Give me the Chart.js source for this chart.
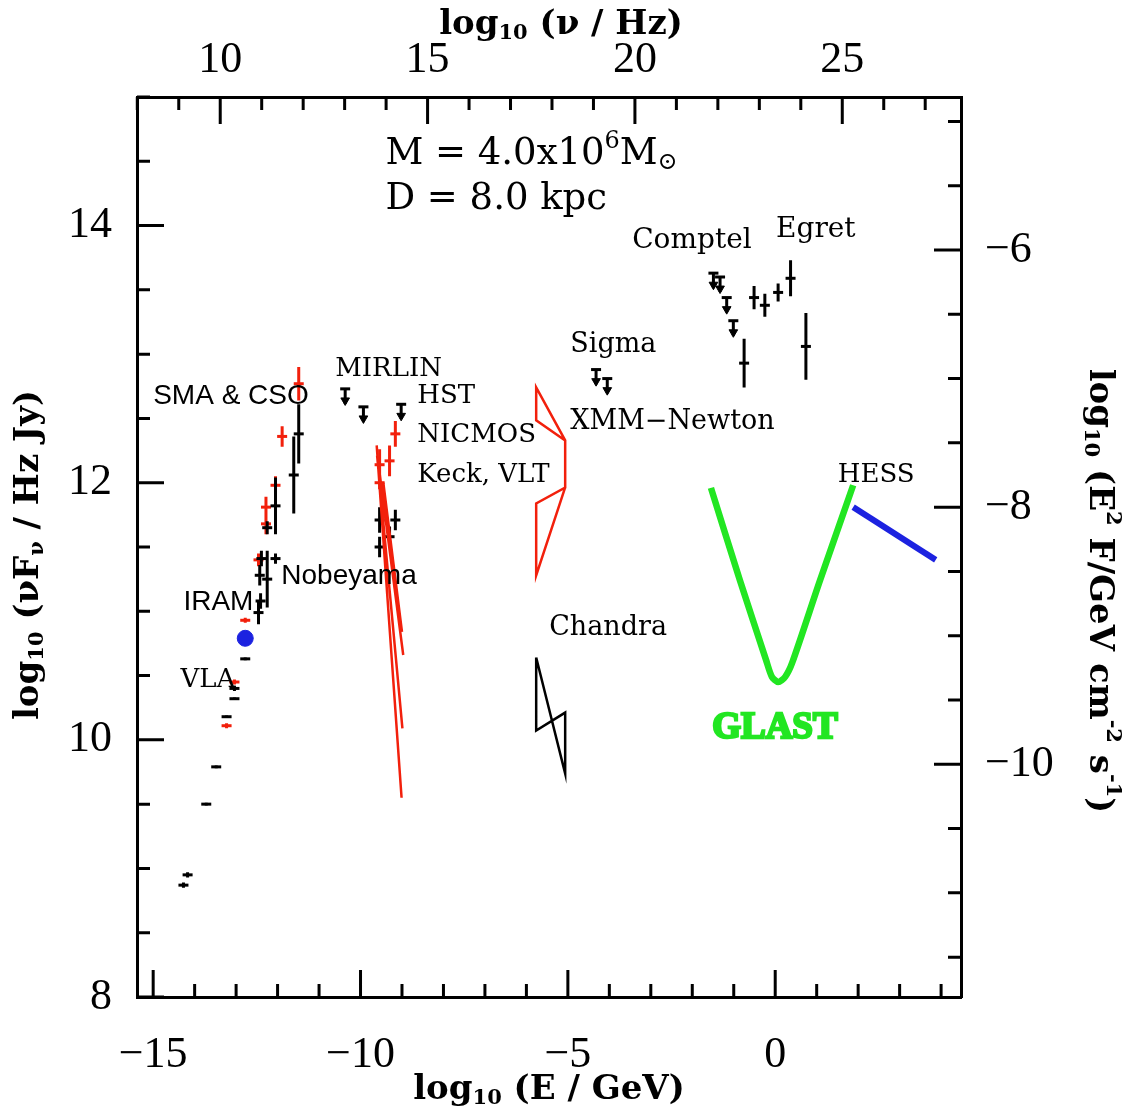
<!DOCTYPE html>
<html lang="en">
<head>
<meta charset="UTF-8">
<title>Sgr A* spectrum</title>
<script src="https://cdn.jsdelivr.net/npm/chart.js"></script>
<style>
  html, body { margin: 0; padding: 0; background: #fff; }
  canvas { display: block; }
</style>
</head>
<body>
<canvas id="chart" width="1122" height="1113"></canvas>
<script>
// x = log10(E / GeV), y = log10(nuFnu / Hz Jy)
// the top and right axes are shifted copies of these
const NU_OFFSET = 23.383;   // log10(nu/Hz) - log10(E/GeV)
const FLUX_OFFSET = -19.81; // log10(E^2 F) - log10(nuFnu)
const X_MIN = -15.39, X_MAX = 4.48;
const Y_MIN = 8, Y_MAX = 15;

// labelled tick values of each axis
const bottomTicks = [-15, -10, -5, 0];
const topTicks = [10, 15, 20, 25];
const leftTicks = [8, 10, 12, 14];
const rightTicks = [-10, -8, -6];

// black detections (radio, mm, IR, Egret)
const detE = [-14.27, -14.17, -13.72, -13.48, -13.23, -13.04, -13.04, -12.78, -12.78,
  -12.46, -12.41, -12.43, -12.39, -12.25, -12.05, -12.25, -12.05, -11.61, -11.49,
  -9.54, -9.54, -9.30, -9.16,
  -0.75, -0.51, -0.25, 0.07, 0.37, 0.74];
const detF = [8.87, 8.95, 9.50, 9.79, 10.18, 10.32, 10.40, 10.63, 10.79,
  10.99, 11.08, 11.28, 11.41, 11.25, 11.41, 11.65, 11.82, 12.06, 12.38,
  11.71, 11.50, 11.58, 11.71,
  12.93, 13.44, 13.38, 13.48, 13.59, 13.06];
const detErr = [0.02, 0.02, 0.01, 0.01, 0.01, 0.01, 0.02, 0.01, 0.02,
  0.09, 0.06, 0.08, 0.06, 0.22, 0.04, 0.05, 0.22, 0.30, 0.23,
  0.10, 0.08, 0.08, 0.08,
  0.19, 0.09, 0.09, 0.07, 0.14, 0.26];

// red points (flaring / alternative epochs)
const flareE = [-13.23, -13.04, -12.78, -12.46, -12.28, -12.28, -12.05, -11.89, -11.49,
  -9.16, -9.30, -9.54, -9.54];
const flareF = [10.11, 10.45, 10.93, 11.40, 11.81, 11.68, 11.98, 12.36, 12.77,
  12.38, 12.17, 12.14, 12.00];
const flareErr = [0.02, 0.02, 0.02, 0.05, 0.08, 0.08, 0.07, 0.08, 0.13,
  0.10, 0.12, 0.12, 0.05];

// IRAM point
const iramE = [-12.78];
const iramF = [10.79];

// upper limits (MIRLIN, HST, Sigma, Comptel)
const limE = [-10.37, -9.93, -9.02, -4.32, -4.05, -1.49, -1.33, -1.17, -1.01];
const limF = [12.73, 12.59, 12.61, 12.88, 12.81, 13.63, 13.60, 13.44, 13.26];

// NIR flare spectral slopes: start and end of each line
const slopeE1 = [-9.61, -9.60, -9.55, -9.45];
const slopeF1 = [12.29, 12.21, 12.10, 12.00];
const slopeE2 = [-9.01, -8.99, -8.97, -9.00];
const slopeF2 = [9.55, 10.09, 10.66, 10.84];

// XMM-Newton flare bow-tie
const xmmE = [-5.065, -5.764, -5.764, -5.065, -5.065, -5.764, -5.764, -5.065];
const xmmF = [12.329, 12.485, 12.742, 12.329, 11.963, 11.839, 11.279, 11.963];

// Chandra quiescent bow-tie
const chandraE = [-5.764, -5.764, -5.065, -5.065, -5.764];
const chandraF = [10.640, 10.072, 10.212, 9.737, 10.640];

// GLAST sensitivity curve
const glastE = [-1.55, -0.85, -0.22, -0.08, 0.07, 0.24, 0.41, 1.08, 1.88];
const glastF = [11.96, 11.24, 10.62, 10.49, 10.45, 10.49, 10.60, 11.24, 11.98];

// HESS spectrum
const hessE = [1.88, 3.87];
const hessF = [11.81, 11.40];

const LIM_LEN = 0.115;

const SERIF = "'DejaVu Serif', serif";
const SANS = "'Liberation Sans', Arial, sans-serif";
const notes = [
  { text: 'SMA & CSO', x: -15.00, y: 12.67, font: '28px ' + SANS },
  { text: 'MIRLIN', x: -10.61, y: 12.88, font: '26px ' + SERIF },
  { text: 'HST', x: -8.63, y: 12.67, font: '26px ' + SERIF },
  { text: 'NICMOS', x: -8.63, y: 12.37, font: '26px ' + SERIF },
  { text: 'Keck, VLT', x: -8.63, y: 12.06, font: '26px ' + SERIF },
  { text: 'Nobeyama', x: -11.91, y: 11.27, font: '28px ' + SANS },
  { text: 'IRAM', x: -14.27, y: 11.07, font: '28px ' + SANS },
  { text: 'VLA', x: -14.34, y: 10.46, font: '26px ' + SERIF },
  { text: 'Sigma', x: -4.94, y: 13.07, font: '27px ' + SERIF },
  { text: 'XMM\u2212Newton', x: -4.94, y: 12.47, font: '27px ' + SERIF },
  { text: 'Chandra', x: -5.45, y: 10.87, font: '27px ' + SERIF },
  { text: 'Comptel', x: -3.45, y: 13.88, font: '28px ' + SERIF },
  { text: 'Egret', x: 0.02, y: 13.97, font: '28px ' + SERIF },
  { text: 'HESS', x: 1.51, y: 12.06, font: '26px ' + SERIF }
];

function pts(xs, ys) {
  return xs.map((x, i) => ({ x: x, y: ys[i] }));
}
// two-point segments separated by gaps
function segs(xa, ya, xb, yb) {
  const out = [];
  xa.forEach((x, i) => {
    out.push({ x: x, y: ya[i] }, { x: xb[i], y: yb[i] }, { x: xb[i], y: null });
  });
  return out;
}
function errBars(xs, ys, errs) {
  return segs(xs, ys.map((y, i) => y - errs[i]), xs, ys.map((y, i) => y + errs[i]));
}

const fmt = v => (v < 0 ? '\u2212' + (-v) : String(v));

const tickFont = { family: "'Liberation Serif', serif", size: 44 };
function axis(position, min, max, labels, padding, size) {
  const horiz = position === 'top' || position === 'bottom';
  return {
    type: 'linear', position: position, min: min, max: max,
    grid: { display: false, drawTicks: false },
    border: { display: true, color: '#000', width: 3 },
    ticks: { autoSkip: false, maxRotation: 0, color: '#000', font: tickFont, padding: padding, callback: fmt },
    afterBuildTicks: s => { s.ticks = labels.map(v => ({ value: v })); },
    afterFit: s => { if (horiz) s.height = size; else s.width = size; }
  };
}

// inward frame ticks
const frameTicks = {
  id: 'frameTicks',
  afterDraw(chart) {
    const { ctx, chartArea: a, scales } = chart;
    ctx.save();
    ctx.strokeStyle = '#000';
    ctx.lineWidth = 3;
    ctx.beginPath();
    const run = (scale, step, major, draw) => {
      for (let k = Math.ceil(scale.min / step - 1e-9); k * step <= scale.max + 1e-9; k++) {
        const v = k * step;
        const isMajor = Math.abs(v / major - Math.round(v / major)) < 1e-6;
        draw(scale.getPixelForValue(v), isMajor ? 27 : 13);
      }
    };
    run(scales.x, 1, 5, (p, l) => { ctx.moveTo(p, a.bottom); ctx.lineTo(p, a.bottom - l); });
    run(scales.x2, 1, 5, (p, l) => { ctx.moveTo(p, a.top); ctx.lineTo(p, a.top + l); });
    run(scales.y, 0.5, 2, (p, l) => { ctx.moveTo(a.left, p); ctx.lineTo(a.left + l, p); });
    run(scales.y2, 0.5, 2, (p, l) => { ctx.moveTo(a.right, p); ctx.lineTo(a.right - l, p); });
    ctx.stroke();
    ctx.restore();
  }
};

function drawRich(ctx, parts, x, y, align) {
  let total = 0;
  parts.forEach(p => { ctx.font = p.font; total += ctx.measureText(p.t).width; });
  let cx = align === 'center' ? x - total / 2 : x;
  parts.forEach(p => {
    ctx.font = p.font;
    ctx.fillText(p.t, cx, y + (p.dy || 0));
    cx += ctx.measureText(p.t).width;
  });
}

const TB = 'bold 34px ' + SERIF, TS = 'bold 21px ' + SERIF;
const titles = {
  bottom: [{ t: 'log', font: TB }, { t: '10', font: TS, dy: 9 }, { t: ' (E / GeV)', font: TB }],
  top: [{ t: 'log', font: TB }, { t: '10', font: TS, dy: 9 }, { t: ' (\u03bd / Hz)', font: TB }],
  left: [{ t: 'log', font: TB }, { t: '10', font: TS, dy: 9 }, { t: ' (\u03bdF', font: TB },
    { t: '\u03bd', font: TS, dy: 9 }, { t: ' / Hz Jy)', font: TB }],
  right: [{ t: 'log', font: TB }, { t: '10', font: TS, dy: 9 }, { t: ' (E', font: TB },
    { t: '2', font: TS, dy: -13 }, { t: ' F/GeV cm', font: TB }, { t: '-2', font: TS, dy: -13 },
    { t: ' s', font: TB }, { t: '-1', font: TS, dy: -13 }, { t: ')', font: TB }]
};

const textLayer = {
  id: 'textLayer',
  afterDraw(chart) {
    const { ctx, chartArea: a, scales } = chart;
    ctx.save();
    ctx.fillStyle = '#000';
    ctx.textBaseline = 'middle';
    drawRich(ctx, titles.bottom, (a.left + a.right) / 2, a.bottom + 93, 'center');
    drawRich(ctx, titles.top, (a.left + a.right) / 2 + 12, a.top - 72, 'center');
    ctx.save();
    ctx.translate(a.left - 108, (a.top + a.bottom) / 2 + 8);
    ctx.rotate(-Math.PI / 2);
    drawRich(ctx, titles.left, 0, 0, 'center');
    ctx.restore();
    ctx.save();
    ctx.translate(a.right + 138, (a.top + a.bottom) / 2 + 44);
    ctx.rotate(Math.PI / 2);
    drawRich(ctx, titles.right, 0, 0, 'center');
    ctx.restore();

    ctx.textAlign = 'left';
    notes.forEach(n => {
      ctx.font = n.font;
      ctx.fillText(n.text, scales.x.getPixelForValue(n.x), scales.y.getPixelForValue(n.y));
    });

    // mass and distance
    const F = '37px ' + SERIF, FS = '24px ' + SERIF;
    const mx = scales.x.getPixelForValue(-9.40);
    drawRich(ctx, [{ t: 'M = 4.0x10', font: F }, { t: '6', font: FS, dy: -13 },
      { t: 'M', font: F }, { t: '\u2299', font: FS, dy: 8 }], mx, scales.y.getPixelForValue(14.55), 'left');
    drawRich(ctx, [{ t: 'D = 8.0 kpc', font: F }], mx, scales.y.getPixelForValue(14.20), 'left');

    // GLAST
    ctx.font = 'bold 37px ' + "'Liberation Serif', serif";
    ctx.fillStyle = '#22e622';
    ctx.strokeStyle = '#22e622';
    ctx.lineWidth = 2.5;
    const gx = scales.x.getPixelForValue(-1.52), gy = scales.y.getPixelForValue(10.09);
    ctx.fillText('GLAST', gx, gy);
    ctx.strokeText('GLAST', gx, gy);
    ctx.restore();
  }
};

const BLACK = '#000000', RED = '#f2200c', GREEN = '#22e622', BLUE = '#1c22e0';
const lineSet = (data, color, width, extra) => Object.assign({
  data: data, showLine: true, borderColor: color, borderWidth: width,
  pointRadius: 0, fill: false
}, extra || {});
const pointSet = (data, color, style, radius, extra) => Object.assign({
  data: data, showLine: false, pointStyle: style, pointRadius: radius,
  borderColor: color, backgroundColor: color, pointBorderWidth: 3
}, extra || {});

new Chart(document.getElementById('chart'), {
  type: 'scatter',
  data: {
    datasets: [
      lineSet(pts(glastE, glastF), GREEN, 6.5, { tension: 0.25 }),
      lineSet(pts(hessE, hessF), BLUE, 6),
      lineSet(pts(xmmE, xmmF), RED, 2.5),
      lineSet(pts(chandraE, chandraF), BLACK, 2.5),
      lineSet(segs(slopeE1, slopeF1, slopeE2, slopeF2), RED, 2.5),
      pointSet(pts(iramE, iramF), BLUE, 'circle', 8, { pointBorderWidth: 1 }),
      lineSet(errBars(detE, detF, detErr), BLACK, 3),
      pointSet(pts(detE, detF), BLACK, 'line', 5),
      lineSet(errBars(flareE, flareF, flareErr), RED, 3),
      pointSet(pts(flareE, flareF), RED, 'line', 5),
      lineSet(segs(limE, limF, limE, limF.map(f => f - LIM_LEN)), BLACK, 3),
      pointSet(pts(limE, limF), BLACK, 'line', 5),
      pointSet(pts(limE, limF.map(f => f - LIM_LEN + 0.025)), BLACK, 'triangle', 5,
        { rotation: 180, pointBorderWidth: 1 })
    ]
  },
  options: {
    responsive: false,
    animation: false,
    layout: { padding: 0 },
    plugins: { legend: { display: false }, tooltip: { enabled: false } },
    scales: {
      x: axis('bottom', X_MIN, X_MAX, bottomTicks, 32, 116),
      x2: axis('top', X_MIN + NU_OFFSET, X_MAX + NU_OFFSET, topTicks, 10, 97),
      y: axis('left', Y_MIN, Y_MAX, leftTicks, 25, 137),
      y2: axis('right', Y_MIN + FLUX_OFFSET, Y_MAX + FLUX_OFFSET, rightTicks, 24, 161)
    }
  },
  plugins: [frameTicks, textLayer]
});
</script>
</body>
</html>
